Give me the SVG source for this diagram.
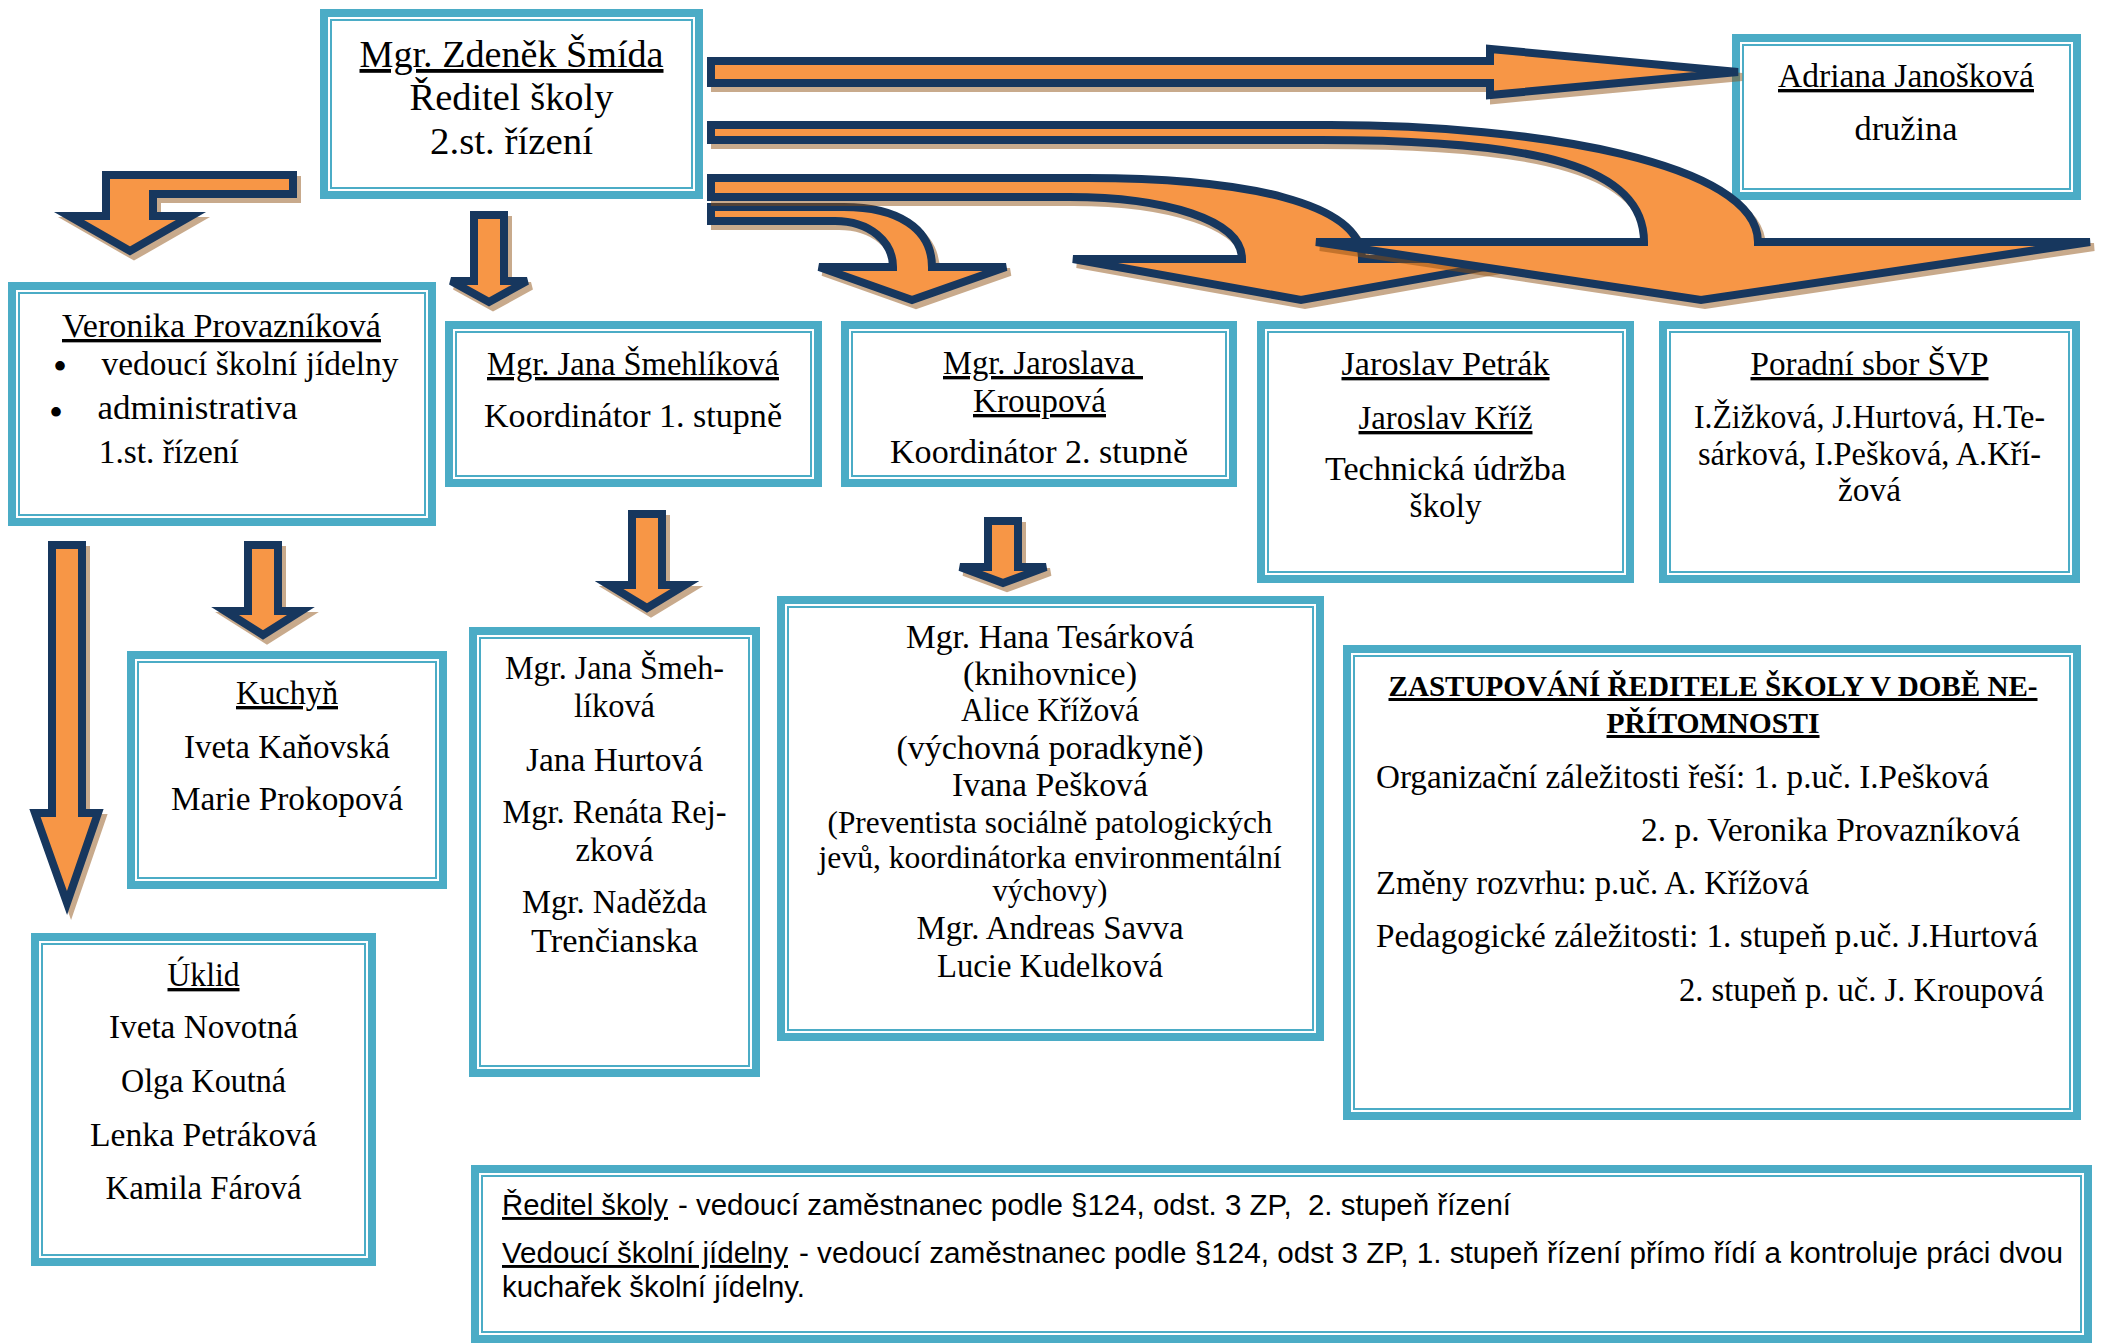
<svg xmlns="http://www.w3.org/2000/svg" xmlns:xlink="http://www.w3.org/1999/xlink" width="2111" height="1343" viewBox="0 0 2111 1343">
<style>
.o{fill:#fff;stroke:#4BACC6;stroke-width:8}
.i{fill:none;stroke:#4BACC6;stroke-width:2}
text{font-family:"Liberation Serif","DejaVu Serif",serif;fill:#000}
.c{text-anchor:middle}
.u{text-decoration:underline}
.f33{font-size:33.5px}
.f31{font-size:31px}
.b{font-weight:bold}
.bul{font-size:40px}
.sans{font-family:"Liberation Sans",Arial,sans-serif;font-size:29px}
.arr{fill:#F79646;stroke:#17375E;stroke-width:8;stroke-linejoin:miter}
.sh{fill:#8E4F10;stroke:#8E4F10;stroke-width:8;opacity:0.48}
</style>
<defs>
<path id="pE" d="M52,545 H82 V813 H98 L67,903 L35,813 H52 Z"/>
<path id="pF" d="M248,545 H278 V611 H301 L263,635 L225,611 H248 Z"/>
<path id="pA" d="M293,175 L106,175 L106,216 L69,216 L130,251 L191,216 L153,216 L153,194 L293,194 Z"/>
<path id="pB" d="M474,215 H504 V281 H527 L489,302 L451,281 H474 Z"/>
<path id="pC" d="M632,514 H662 V585 H685 L647,608 L609,585 H632 Z"/>
<path id="pD" d="M988,521 H1018 V567 H1046 L1003,583 L960,567 H988 Z"/>
<path id="pJ" d="M711,207 L844,207 C897,207 932,228 932,267 L1006,267 L912,300 L819,267 L893,267 C893,242 870,221 835,221 L711,221 Z"/>
<path id="pI" d="M711,178 L1087,178 C1246,178 1362,203 1362,259 L1530,259 L1301,300 L1073,259 L1242,259 C1242,220 1165,197 1069,197 L711,197 Z"/>
<path id="pH" d="M711,125 L1330,125 C1536,125 1758,163 1758,242 L2090,242 L1701,300 L1316,242 L1644,242 C1644,167 1540,140 1321,140 L711,140 Z"/>
<path id="pG" d="M711,61 H1490 V49 L1738,72 L1490,95 V83 H711 Z"/>
<clipPath id="clipK"><rect x="841" y="321" width="396" height="144"/></clipPath>
</defs>

<g id="director">
<rect class="o" x="324" y="13" width="375" height="182"/>
<rect class="i" x="331" y="20" width="361" height="168"/>
<text class="c u" style="font-size:38px" x="511.5" y="67" textLength="304" lengthAdjust="spacingAndGlyphs">Mgr. Zdeněk Šmída</text>
<text class="c" style="font-size:38px" x="511.5" y="110" textLength="204" lengthAdjust="spacingAndGlyphs">Ředitel školy</text>
<text class="c" style="font-size:38px" x="511.5" y="154" textLength="163" lengthAdjust="spacingAndGlyphs">2.st. řízení</text>
</g>

<g id="adriana">
<rect class="o" x="1736" y="38" width="341" height="158"/>
<rect class="i" x="1743" y="45" width="327" height="144"/>
<text class="c u f33" x="1906" y="87" textLength="256" lengthAdjust="spacingAndGlyphs">Adriana Janošková</text>
<text class="c f33" x="1906" y="140" textLength="103" lengthAdjust="spacingAndGlyphs">družina</text>
</g>

<g id="veronika">
<rect class="o" x="12" y="286" width="420" height="236"/>
<rect class="i" x="19" y="293" width="406" height="222"/>
<text class="c u f33" x="221.5" y="337" textLength="319" lengthAdjust="spacingAndGlyphs">Veronika Provazníková</text>
<text class="c bul" x="60" y="380">•</text>
<text class="c bul" x="56" y="425.5">•</text>
<text class="f33" x="101.5" y="375" textLength="297" lengthAdjust="spacingAndGlyphs">vedoucí školní jídelny</text>
<text class="f33" x="97.6" y="419" textLength="200" lengthAdjust="spacingAndGlyphs">administrativa</text>
<text class="f33" x="98.7" y="463" textLength="140" lengthAdjust="spacingAndGlyphs">1.st. řízení</text>
</g>

<g id="smehlikova">
<rect class="o" x="449" y="325" width="369" height="158"/>
<rect class="i" x="456" y="332" width="355" height="144"/>
<text class="c u f33" x="633" y="375" textLength="292" lengthAdjust="spacingAndGlyphs">Mgr. Jana Šmehlíková</text>
<text class="c f33" x="633" y="427" textLength="298" lengthAdjust="spacingAndGlyphs">Koordinátor 1. stupně</text>
</g>

<g id="kroupova">
<rect class="o" x="845" y="325" width="388" height="158"/>
<rect class="i" x="852" y="332" width="374" height="144"/>
<text class="u f33" x="943" y="374" textLength="200" lengthAdjust="spacingAndGlyphs">Mgr. Jaroslava&#160;</text>
<text class="c u f33" x="1039.5" y="412" textLength="133" lengthAdjust="spacingAndGlyphs">Kroupová</text>
<text class="c f33" x="1039" y="463" textLength="298" lengthAdjust="spacingAndGlyphs" clip-path="url(#clipK)">Koordinátor 2. stupně</text>
</g>

<g id="petrak">
<rect class="o" x="1261" y="325" width="369" height="254"/>
<rect class="i" x="1268" y="332" width="355" height="240"/>
<text class="c u f33" x="1445.5" y="375" textLength="208" lengthAdjust="spacingAndGlyphs">Jaroslav Petrák</text>
<text class="c u f33" x="1445.5" y="429" textLength="174" lengthAdjust="spacingAndGlyphs">Jaroslav Kříž</text>
<text class="c f33" x="1445.5" y="480" textLength="241" lengthAdjust="spacingAndGlyphs">Technická údržba</text>
<text class="c f33" x="1445.5" y="517" textLength="72" lengthAdjust="spacingAndGlyphs">školy</text>
</g>

<g id="poradni">
<rect class="o" x="1663" y="325" width="413" height="254"/>
<rect class="i" x="1670" y="332" width="399" height="240"/>
<text class="c u f33" x="1869.5" y="375" textLength="238" lengthAdjust="spacingAndGlyphs">Poradní sbor ŠVP</text>
<text class="c f33" x="1869.5" y="428" textLength="351" lengthAdjust="spacingAndGlyphs">I.Žižková, J.Hurtová, H.Te-</text>
<text class="c f33" x="1869.5" y="465" textLength="343" lengthAdjust="spacingAndGlyphs">sárková, I.Pešková, A.Kří-</text>
<text class="c f33" x="1869.5" y="501" textLength="63" lengthAdjust="spacingAndGlyphs">žová</text>
</g>

<g id="kuchyn">
<rect class="o" x="131" y="655" width="312" height="230"/>
<rect class="i" x="138" y="662" width="298" height="216"/>
<text class="c u f33" x="287" y="704" textLength="102" lengthAdjust="spacingAndGlyphs">Kuchyň</text>
<text class="c f33" x="287" y="758" textLength="206" lengthAdjust="spacingAndGlyphs">Iveta Kaňovská</text>
<text class="c f33" x="287" y="810" textLength="232" lengthAdjust="spacingAndGlyphs">Marie Prokopová</text>
</g>

<g id="ucitele1">
<rect class="o" x="473" y="631" width="283" height="442"/>
<rect class="i" x="480" y="638" width="269" height="428"/>
<text class="c f33" x="614.5" y="679" textLength="219" lengthAdjust="spacingAndGlyphs">Mgr. Jana Šmeh-</text>
<text class="c f33" x="614.5" y="717" textLength="81" lengthAdjust="spacingAndGlyphs">líková</text>
<text class="c f33" x="614.5" y="771" textLength="177" lengthAdjust="spacingAndGlyphs">Jana Hurtová</text>
<text class="c f33" x="614.5" y="823" textLength="224" lengthAdjust="spacingAndGlyphs">Mgr. Renáta Rej-</text>
<text class="c f33" x="614.5" y="861" textLength="78" lengthAdjust="spacingAndGlyphs">zková</text>
<text class="c f33" x="614.5" y="913" textLength="185" lengthAdjust="spacingAndGlyphs">Mgr. Naděžda</text>
<text class="c f33" x="614.5" y="952" textLength="167" lengthAdjust="spacingAndGlyphs">Trenčianska</text>
</g>

<g id="tesarkova">
<rect class="o" x="781" y="600" width="539" height="437"/>
<rect class="i" x="788" y="607" width="525" height="423"/>
<text class="c f33" x="1050" y="647.5" textLength="288" lengthAdjust="spacingAndGlyphs">Mgr. Hana Tesárková</text>
<text class="c f33" x="1050" y="685" textLength="174" lengthAdjust="spacingAndGlyphs">(knihovnice)</text>
<text class="c f33" x="1050" y="721" textLength="178" lengthAdjust="spacingAndGlyphs">Alice Křížová</text>
<text class="c f33" x="1050" y="758.5" textLength="307" lengthAdjust="spacingAndGlyphs">(výchovná poradkyně)</text>
<text class="c f33" x="1050" y="796" textLength="196" lengthAdjust="spacingAndGlyphs">Ivana Pešková</text>
<text class="c f31" x="1050" y="833" textLength="445" lengthAdjust="spacingAndGlyphs">(Preventista sociálně patologických</text>
<text class="c f31" x="1050" y="867.5" textLength="463" lengthAdjust="spacingAndGlyphs">jevů, koordinátorka environmentální</text>
<text class="c f31" x="1050" y="901" textLength="115" lengthAdjust="spacingAndGlyphs">výchovy)</text>
<text class="c f33" x="1050" y="939" textLength="267" lengthAdjust="spacingAndGlyphs">Mgr. Andreas Savva</text>
<text class="c f33" x="1050" y="977" textLength="226" lengthAdjust="spacingAndGlyphs">Lucie Kudelková</text>
</g>

<g id="zastupovani">
<rect class="o" x="1347" y="649" width="730" height="467"/>
<rect class="i" x="1354" y="656" width="716" height="453"/>
<text class="c u b" style="font-size:30px" x="1713" y="696" textLength="649" lengthAdjust="spacingAndGlyphs">ZASTUPOVÁNÍ ŘEDITELE ŠKOLY V DOBĚ NE-</text>
<text class="c u b" style="font-size:30px" x="1713" y="733" textLength="213" lengthAdjust="spacingAndGlyphs">PŘÍTOMNOSTI</text>
<text class="f33" x="1376" y="788" textLength="613" lengthAdjust="spacingAndGlyphs">Organizační záležitosti řeší: 1. p.uč. I.Pešková</text>
<text class="f33" x="1641" y="841" textLength="379" lengthAdjust="spacingAndGlyphs">2. p. Veronika Provazníková</text>
<text class="f33" x="1376" y="894" textLength="433" lengthAdjust="spacingAndGlyphs">Změny rozvrhu: p.uč. A. Křížová</text>
<text class="f33" x="1376" y="947" textLength="662" lengthAdjust="spacingAndGlyphs">Pedagogické záležitosti: 1. stupeň p.uč. J.Hurtová</text>
<text class="f33" x="1679" y="1001" textLength="365" lengthAdjust="spacingAndGlyphs">2. stupeň p. uč. J. Kroupová</text>
</g>

<g id="uklid">
<rect class="o" x="35" y="937" width="337" height="325"/>
<rect class="i" x="42" y="944" width="323" height="311"/>
<text class="c u f33" x="203.5" y="986" textLength="72" lengthAdjust="spacingAndGlyphs">Úklid</text>
<text class="c f33" x="203.5" y="1038" textLength="189" lengthAdjust="spacingAndGlyphs">Iveta Novotná</text>
<text class="c f33" x="203.5" y="1092" textLength="165" lengthAdjust="spacingAndGlyphs">Olga Koutná</text>
<text class="c f33" x="203.5" y="1146" textLength="227" lengthAdjust="spacingAndGlyphs">Lenka Petráková</text>
<text class="c f33" x="203.5" y="1199" textLength="196" lengthAdjust="spacingAndGlyphs">Kamila Fárová</text>
</g>

<g id="legenda">
<rect class="o" x="475" y="1169" width="1613" height="170"/>
<rect class="i" x="482" y="1176" width="1599" height="156"/>
<text class="sans u" x="502" y="1215" textLength="166" lengthAdjust="spacingAndGlyphs">Ředitel školy</text>
<text class="sans" x="678" y="1215" textLength="833" lengthAdjust="spacingAndGlyphs">- vedoucí zaměstnanec podle §124, odst. 3 ZP,&#160; 2. stupeň řízení</text>
<text class="sans u" x="502" y="1263" textLength="286" lengthAdjust="spacingAndGlyphs">Vedoucí školní jídelny</text>
<text class="sans" x="799" y="1263" textLength="1264" lengthAdjust="spacingAndGlyphs">- vedoucí zaměstnanec podle §124, odst 3 ZP, 1. stupeň řízení přímo řídí a kontroluje práci dvou</text>
<text class="sans" x="502" y="1297" textLength="303" lengthAdjust="spacingAndGlyphs">kuchařek školní jídelny.</text>
</g>

<g id="connectors">
<use xlink:href="#pE" class="sh" transform="translate(4,5)"/>
<use xlink:href="#pE" class="arr"/>
<use xlink:href="#pF" class="sh" transform="translate(4,5)"/>
<use xlink:href="#pF" class="arr"/>
<use xlink:href="#pA" class="sh" transform="translate(4,5)"/>
<use xlink:href="#pA" class="arr"/>
<use xlink:href="#pB" class="sh" transform="translate(4,5)"/>
<use xlink:href="#pB" class="arr"/>
<use xlink:href="#pC" class="sh" transform="translate(4,5)"/>
<use xlink:href="#pC" class="arr"/>
<use xlink:href="#pD" class="sh" transform="translate(4,5)"/>
<use xlink:href="#pD" class="arr"/>
<use xlink:href="#pJ" class="sh" transform="translate(4,5)"/>
<use xlink:href="#pJ" class="arr"/>
<use xlink:href="#pI" class="sh" transform="translate(4,5)"/>
<use xlink:href="#pI" class="arr"/>
<use xlink:href="#pH" class="sh" transform="translate(4,5)"/>
<use xlink:href="#pH" class="arr"/>
<use xlink:href="#pG" class="sh" transform="translate(4,5)"/>
<use xlink:href="#pG" class="arr"/>
</g>
</svg>
